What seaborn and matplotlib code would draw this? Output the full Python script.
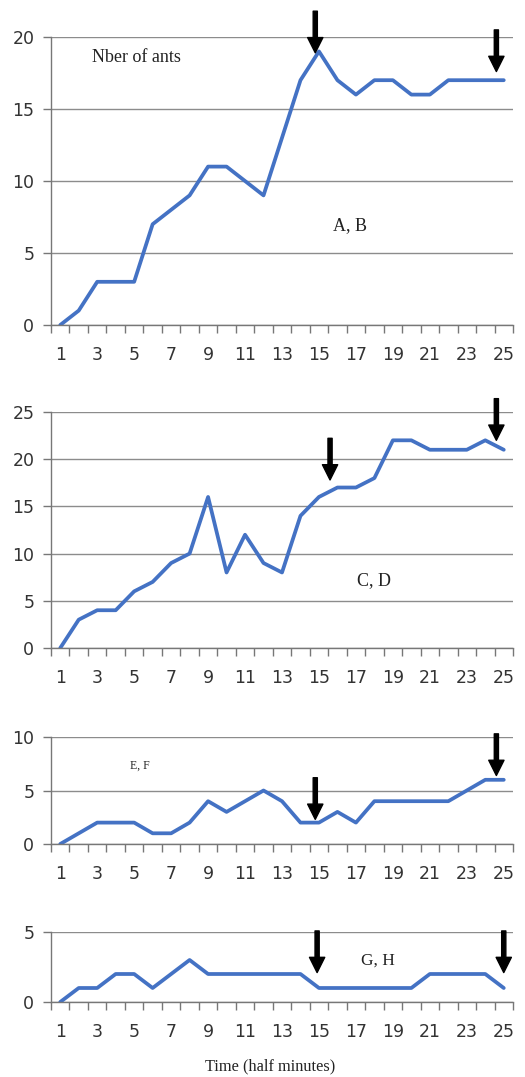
import numpy as np
import pandas as pd
import matplotlib
matplotlib.use("Agg")
import matplotlib.pyplot as plt
import seaborn as sns

# Data (time in half minutes, number of ants)
time = list(range(1, 26))
ants_ab = [0, 1, 3, 3, 3, 7, 8, 9, 11, 11, 10, 9, 13, 17, 19, 17, 16, 17, 17, 16, 16, 17, 17, 17, 17]
ants_cd = [0, 3, 4, 4, 6, 7, 9, 10, 16, 8, 12, 9, 8, 14, 16, 17, 17, 18, 22, 22, 21, 21, 21, 22, 21]
ants_ef = [0, 1, 2, 2, 2, 1, 1, 2, 4, 3, 4, 5, 4, 2, 2, 3, 2, 4, 4, 4, 4, 4, 5, 6, 6]
ants_gh = [0, 1, 1, 2, 2, 1, 2, 3, 2, 2, 2, 2, 2, 2, 1, 1, 1, 1, 1, 1, 2, 2, 2, 2, 1]

panel_labels = ["A, B", "C, D", "E, F", "G, H"]
y_max = [20, 25, 10, 5]
y_step = [5, 5, 5, 5]

# arrows: (x position, tip value) per panel
arrows_ab = [(14.8, 18.9), (24.6, 17.6)]
arrows_cd = [(15.6, 17.8), (24.6, 22.0)]
arrows_ef = [(14.8, 2.3), (24.6, 6.4)]
arrows_gh = [(14.9, 2.1), (25.0, 2.1)]

sns.set_style("white")
plt.rcParams["font.family"] = ["DejaVu Sans"]

W, H = 525, 1077
fig = plt.figure(figsize=(W / 100, H / 100), dpi=100)

# axes boxes in pixels: (bottom spine y, top y)
boxes = [(325, 37), (648, 412), (844, 737), (1002, 932)]
series = [ants_ab, ants_cd, ants_ef, ants_gh]
arrow_sets = [arrows_ab, arrows_cd, arrows_ef, arrows_gh]
label_pos = [(350, 226, 13), (374, 581, 13), (140, 766, 8.5), (378, 961, 12.5)]

line_color = "#4472C4"
grid_color = "#8c8c8c"

for i in range(4):
    bot, top = boxes[i]
    ax = fig.add_axes([51 / W, 1 - bot / H, 462 / W, (bot - top) / H])
    df = pd.DataFrame({"time": time, "ants": series[i]})
    sns.lineplot(data=df, x="time", y="ants", ax=ax, color=line_color, linewidth=2.7)

    ax.set_xlim(0.5, 25.5)
    ax.set_ylim(0, y_max[i])
    ax.set_yticks(np.arange(0, y_max[i] + 1, y_step[i]))
    ax.set_xticks(time[::2])
    ax.set_xticks(np.arange(0.5, 26, 1), minor=True)
    ax.set_xlabel("")
    ax.set_ylabel("")
    ax.yaxis.grid(True, color=grid_color, linewidth=1)
    ax.set_axisbelow(True)
    for s in ["top", "right"]:
        ax.spines[s].set_visible(False)
    ax.spines["left"].set_color("#777777")
    ax.spines["bottom"].set_color("#777777")
    ax.spines["left"].set_linewidth(1)
    ax.spines["bottom"].set_linewidth(1)
    ax.tick_params(axis="x", which="major", length=0, pad=15, labelsize=12.5,
                   labelcolor="#333333", bottom=True)
    ax.tick_params(axis="x", which="minor", length=6, width=1, color="#777777",
                   direction="out", bottom=True)
    ax.tick_params(axis="y", length=6, width=1, color="#777777", direction="out", pad=6,
                   labelsize=12.5, labelcolor="#333333", left=True)

    for ax_x, tip in arrow_sets[i]:
        ax.annotate("", xy=(ax_x, tip), xytext=(0, 30), textcoords="offset points",
                    annotation_clip=False,
                    arrowprops=dict(facecolor="black", edgecolor="black", width=3,
                                    headwidth=11, headlength=11, shrink=0))

    lx, ly, ls = label_pos[i]
    fig.text(lx / W, 1 - ly / H, panel_labels[i], ha="center", va="center",
             fontsize=ls, family="Liberation Serif", color="#222222")

fig.text(136 / W, 1 - 57 / H, "Nber of ants", ha="center", va="center",
         fontsize=13, family="Liberation Serif", color="#222222")
fig.text(270 / W, 1 - 1066 / H, "Time (half minutes)", ha="center", va="center",
         fontsize=11.8, family="Liberation Serif", color="#222222")

fig.savefig("out.png", dpi=100)
